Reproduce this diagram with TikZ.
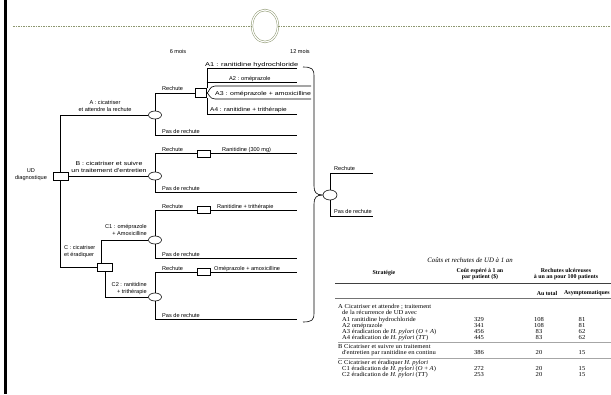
\documentclass[tikz,border=0pt]{standalone}
\usepackage{fontspec}
\setmainfont{Liberation Serif}
\newfontfamily\trf{Liberation Sans}
\newfontfamily\tbf[FakeStretch=1.08]{Liberation Serif}
\usetikzlibrary{shapes.geometric}
\definecolor{olv}{RGB}{140,150,110}
\begin{document}
\begin{tikzpicture}[x=1pt,y=-1pt,
  tr/.style={font=\trf\fontsize{5.6}{7.4}\selectfont, inner sep=0pt},
  tb/.style={font=\tbf\fontsize{6.1}{6.2}\selectfont, inner sep=0pt},
  tbh/.style={font=\bfseries\fontsize{5.9}{6.4}\selectfont, inner sep=0pt, align=center},
  ttl/.style={font=\itshape\fontsize{6.8}{7}\selectfont, inner sep=0pt},
  dbox/.style={draw, fill=white, line width=0.6pt, minimum width=13pt, minimum height=7pt, inner sep=0pt},
  chance/.style={draw, fill=white, ellipse, line width=0.6pt, minimum width=13pt, minimum height=8pt, inner sep=0pt},
  ln/.style={line width=0.6pt},
  rule/.style={line width=0.4pt, black!35}]
\useasboundingbox (0,0) rectangle (611,394);
\fill (4,0) rectangle (6.5,394);
% top ring and dashed line
\node[ellipse, draw=olv, double, double distance=1.2pt, line width=0.5pt, minimum width=26pt, minimum height=32pt, inner sep=0pt] (ring) at (265,26) {};
\coordinate (dl) at (13,26);
\coordinate (dr) at (611,26);
\draw[olv, dash pattern=on 1.5pt off 1pt, line width=0.5pt] (dl) -- (ring.west);
\draw[olv, dash pattern=on 1.5pt off 1pt, line width=0.5pt] (ring.east) -- (dr);
\node[tr] (t6) at (178,51) {6 mois};
\node[tr] (t12) at (300,51) {12 mois};
% decision and chance nodes
\node[dbox, minimum width=15pt, minimum height=8pt] (root) at (60.5,176) {};
\node[chance] (cA) at (155,115) {};
\node[chance] (cB) at (155,176) {};
\node[dbox, minimum width=15pt, minimum height=8pt] (bC) at (104.5,267) {};
\node[chance] (cC1) at (155,240) {};
\node[chance] (cC2) at (155,297) {};
\node[dbox, minimum width=11pt, minimum height=9pt] (bA) at (201,93) {};
\node[dbox] (bB) at (203.5,153.5) {};
\node[dbox] (bC1) at (203.5,210) {};
\node[dbox] (bC2) at (203.5,272) {};
\node[chance, minimum width=14pt, minimum height=10pt] (cR) at (330,195) {};
% end points
\coordinate (pA) at (297,135);
\coordinate (a1e) at (297,68);
\coordinate (a4e) at (297,114);
\coordinate (a2s) at (206.5,82);
\coordinate (a2e) at (297,82);
\coordinate (a3tl) at (215,86);
\coordinate (a3tr) at (311,86);
\coordinate (a3bl) at (215,99);
\coordinate (a3br) at (311,99);
\coordinate (bBe) at (297,153.5);
\coordinate (pB) at (297,192);
\coordinate (c1e) at (297,210);
\coordinate (pC1) at (297,258);
\coordinate (c2e) at (297,272);
\coordinate (pC2) at (297,319);
\coordinate (brT) at (303,67);
\coordinate (brB) at (303,322);
\coordinate (rRe) at (373,173);
\coordinate (rPe) at (373,216);
% connectors
\draw[ln] (root.north) |- (cA.west);
\draw[ln] (root.east) -- (cB.west);
\draw[ln] (root.south) |- (bC.west);
\draw[ln] ([xshift=-3.5pt]bC.north) |- (cC1.west);
\draw[ln] ([xshift=0.5pt]bC.south) |- (cC2.west);
\draw[ln] (cA.north) |- (bA.west);
\draw[ln] (cA.south) |- (pA);
\draw[ln] (a1e) -| (bA.north east);
\draw[ln] (a4e) -| (bA.south east);
\draw[ln] (a2s) -- (a2e);
\draw[ln] (a3tr) -- (a3tl) .. controls (209,86) and (209,93) .. (bA.east);
\draw[ln] (a3br) -- (a3bl) .. controls (209,99) and (209,93) .. (bA.east);
\draw[ln] (cB.north) |- (bB.west);
\draw[ln] (bB.east) -- (bBe);
\draw[ln] (cB.south) |- (pB);
\draw[ln] (cC1.north) |- (bC1.west);
\draw[ln] (bC1.east) -- (c1e);
\draw[ln] (cC1.south) |- (pC1);
\draw[ln] (cC2.north) |- (bC2.west);
\draw[ln] (bC2.east) -- (c2e);
\draw[ln] (cC2.south) |- (pC2);
\draw[ln] (brT) .. controls (312,67) and (314,69) .. (314,76) -- (314,186) .. controls (314,192) and (316,195) .. (cR.west);
\draw[ln] (cR.west) .. controls (316,195) and (314,198) .. (314,204) -- (314,313) .. controls (314,320) and (312,322) .. (brB);
\draw[ln] (cR.north) |- (rRe);
\draw[ln] (cR.south) |- (rPe);
% tree labels
\node[tr, align=center] (tUD) at (31,174.5) {UD\\diagnostique};
\node[tr, align=center] (tA) at (105,106) {A : cicatriser\\et attendre la rechute};
\node[tr] (tB) at (109,167.5) {\scalebox{1.25}[1]{\begin{tabular}{@{}c@{}}B : cicatriser et suivre\\un traitement d'entretien\end{tabular}}};
\node[tr, align=left, anchor=west] (tC) at (64,251.5) {C : cicatriser\\et éradiquer};
\node[tr, align=right, anchor=east] (tC1) at (147,230) {C1 : oméprazole\\+ Amoxicilline};
\node[tr, align=right, anchor=east] (tC2) at (147,288.5) {C2 : ranitidine\\+ trithérapie};
\node[tr, anchor=base west] (tAr) at (162,90.5) {Rechute};
\node[tr, anchor=base west] (tAp) at (162,133) {Pas de rechute};
\node[tr, anchor=base west] (tBr) at (162,151.5) {Rechute};
\node[tr, anchor=base west] (tBp) at (162,190) {Pas de rechute};
\node[tr, anchor=base west] (tC1r) at (162,208) {Rechute};
\node[tr, anchor=base west] (tC1p) at (162,256) {Pas de rechute};
\node[tr, anchor=base west] (tC2r) at (162,270) {Rechute};
\node[tr, anchor=base west] (tC2p) at (162,317) {Pas de rechute};
\node[tr, anchor=base west] (tA1) at (205,66) {\scalebox{1.33}[1]{A1 : ranitidine hydrochloride}};
\node[tr, anchor=base west] (tA2) at (229,80) {A2 : oméprazole};
\node[tr, anchor=base west] (tA3) at (215,95.5) {\scalebox{1.25}[1]{A3 : oméprazole + amoxicilline}};
\node[tr, anchor=base west] (tA4) at (210,111.5) {\scalebox{1.16}[1]{A4 : ranitidine + trithérapie}};
\node[tr, anchor=base west] (tBt) at (222,151.5) {Ranitidine (300 mg)};
\node[tr, anchor=base west] (tC1t) at (217,208) {Ranitidine + trithérapie};
\node[tr, anchor=base west] (tC2t) at (214,270) {Oméprazole + amoxicilline};
\node[tr, anchor=base west] (tRr) at (334,170.5) {Rechute};
\node[tr, anchor=base west] (tRp) at (334,213.5) {Pas de rechute};
% table
\node[ttl] (ttitle) at (470,260) {Coûts et rechutes de UD à 1 an};
\node[tbh] (hS) at (384,273) {Stratégie};
\node[tbh] (hC) at (480,274) {Coût espéré à 1 an\\par patient (\$)};
\node[tbh] (hR) at (566,274) {Rechutes ulcéreuses\\à un an pour 100 patients};
\coordinate (r1l) at (335,283); \coordinate (r1r) at (611,283);
\draw[line width=1pt, black!75] (r1l) -- (r1r);
\node[tbh] (hT) at (547,293) {Au total};
\node[tbh] (hAs) at (587,293) {Asymptomatiques};
\coordinate (r2l) at (335,298); \coordinate (r2r) at (611,298);
\draw[line width=0.7pt, black!55] (r2l) -- (r2r);
\node[tb, anchor=base west] (rA0) at (338,308.7) {A Cicatriser et attendre ; traitement};
\node[tb, anchor=base west] (rA0b) at (342,314.7) {de la récurrence de UD avec};
\node[tb, anchor=base west] (rA1) at (342,321.7) {A1 ranitidine hydrochloride};
\node[tb, anchor=base west] (rA2) at (342,327.7) {A2 oméprazole};
\node[tb, anchor=base west] (rA3) at (342,333.7) {A3 éradication de \textit{H. pylori} (\textit{O} + \textit{A})};
\node[tb, anchor=base west] (rA4) at (342,339.7) {A4 éradication de \textit{H. pylori} (\textit{TT})};
\coordinate (r3l) at (338,342.5); \coordinate (r3r) at (611,342.5);
\draw[rule] (r3l) -- (r3r);
\node[tb, anchor=base west] (rB0) at (338,348.7) {B Cicatriser et suivre un traitement};
\node[tb, anchor=base west] (rB1) at (342,354.7) {d'entretien par ranitidine en continu};
\coordinate (r4l) at (338,358) ; \coordinate (r4r) at (611,358);
\draw[rule] (r4l) -- (r4r);
\node[tb, anchor=base west] (rC0) at (338,364.7) {C Cicatriser et éradiquer \textit{H. pylori}};
\node[tb, anchor=base west] (rC1) at (342,370.7) {C1 éradication de \textit{H. pylori} (\textit{O} + \textit{A})};
\node[tb, anchor=base west] (rC2) at (342,376.7) {C2 éradication de \textit{H. pylori} (\textit{TT})};
% numbers
\node[tb, anchor=base] (n11) at (479,321.7) {329};
\node[tb, anchor=base] (n12) at (539,321.7) {108};
\node[tb, anchor=base] (n13) at (582,321.7) {81};
\node[tb, anchor=base] (n21) at (479,327.7) {341};
\node[tb, anchor=base] (n22) at (539,327.7) {108};
\node[tb, anchor=base] (n23) at (582,327.7) {81};
\node[tb, anchor=base] (n31) at (479,333.7) {456};
\node[tb, anchor=base] (n32) at (539,333.7) {83};
\node[tb, anchor=base] (n33) at (582,333.7) {62};
\node[tb, anchor=base] (n41) at (479,339.7) {445};
\node[tb, anchor=base] (n42) at (539,339.7) {83};
\node[tb, anchor=base] (n43) at (582,339.7) {62};
\node[tb, anchor=base] (n51) at (479,354.7) {386};
\node[tb, anchor=base] (n52) at (539,354.7) {20};
\node[tb, anchor=base] (n53) at (582,354.7) {15};
\node[tb, anchor=base] (n61) at (479,370.7) {272};
\node[tb, anchor=base] (n62) at (539,370.7) {20};
\node[tb, anchor=base] (n63) at (582,370.7) {15};
\node[tb, anchor=base] (n71) at (479,376.7) {253};
\node[tb, anchor=base] (n72) at (539,376.7) {20};
\node[tb, anchor=base] (n73) at (582,376.7) {15};
\end{tikzpicture}
\end{document}
